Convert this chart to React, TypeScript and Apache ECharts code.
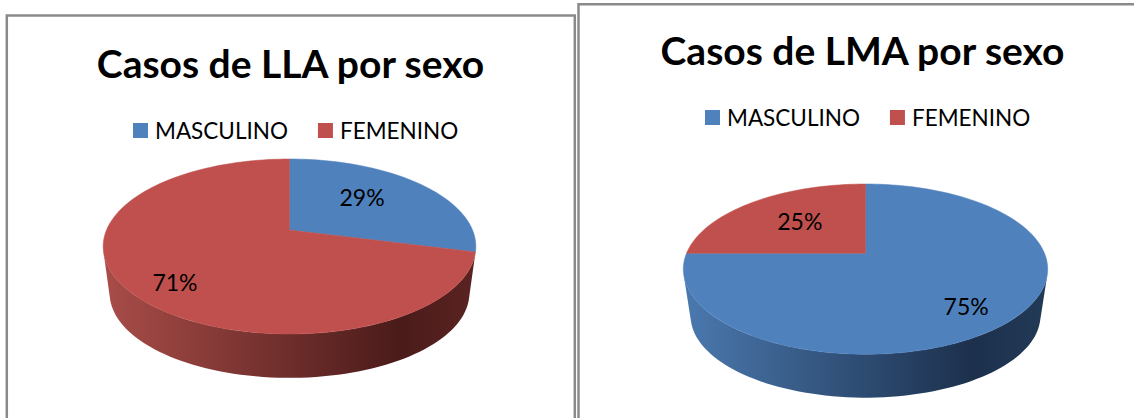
import React, { useEffect, useRef } from "react";
import * as echarts from "echarts";

const categories = ["MASCULINO", "FEMENINO"];
const llaValues = [29, 71];
const lmaValues = [75, 25];
const titles = ["Casos de LLA por sexo", "Casos de LMA por sexo"];

const COLORS = ["#4F81BD", "#C0504D"];
const WALL_STOPS = [
  [{ offset: 0, color: "#4A78AE" }, { offset: 0.8, color: "#1C304C" }, { offset: 1, color: "#223A56" }],
  [{ offset: 0, color: "#A84C48" }, { offset: 0.8, color: "#4A1B1A" }, { offset: 1, color: "#5A2321" }],
];
const FONT = "Lato, Carlito, 'Open Sans', sans-serif";
const WALL_LIMIT = 105;

type Pie = {
  values: number[]; cx: number; cy: number; R: number; S: number; k: number; h: number; s: number;
  labelR: number[]; labelNudge: number[][];
};
const pies: Pie[] = [
  { values: llaValues, cx: 289.5, cy: 230, R: 183, S: 84.4, k: 0.1886, h: 47.5, s: 0.965,
    labelR: [0.58, 0.72], labelNudge: [[-6, -5], [-1, 11]] },
  { values: lmaValues, cx: 865.5, cy: 253.3, R: 179, S: 82.2, k: 0.186, h: 47.4, s: 0.96,
    labelR: [0.72, 0.53], labelNudge: [[0, 6], [-3, -4]] },
];

function project(p: Pie, deg: number, r = 1, lower = false) {
  const t = (deg * Math.PI) / 180;
  const X = r * Math.sin(t);
  const d = -r * Math.cos(t);
  const w = 1 - p.k * d;
  const sc = lower ? p.s : 1;
  return [p.cx + (sc * p.R * X) / w, p.cy + (lower ? p.h : 0) + (sc * p.S * d) / w];
}

function arc(p: Pie, a: number, b: number, lower = false) {
  const n = Math.max(2, Math.ceil((b - a) / 2));
  const out: number[][] = [];
  for (let i = 0; i <= n; i++) out.push(project(p, a + ((b - a) * i) / n, 1, lower));
  return out;
}

function makeSeries(p: Pie) {
  const total = p.values.reduce((x, y) => x + y, 0);
  return p.values.map((v, i) => ({
    type: "custom",
    name: categories[i],
    coordinateSystem: "none",
    silent: true,
    itemStyle: { color: COLORS[i] },
    data: [[v]],
    renderItem: (_: any, api: any) => {
      const val = api.value(0) as number;
      const before = p.values.slice(0, i).reduce((x, y) => x + y, 0);
      const a = (before / total) * 360;
      const b = ((before + val) / total) * 360;
      const wa = Math.max(a, WALL_LIMIT);
      const wb = Math.min(b, 360 - WALL_LIMIT);
      const children: any[] = [];
      if (wb > wa) {
        const pts = [...arc(p, wa, wb), ...arc(p, wa, wb, true).reverse()];
        children.push({
          type: "polygon",
          z2: 1,
          shape: { points: pts },
          style: {
            fill: new echarts.graphic.LinearGradient(
              p.cx - p.R, 0, p.cx + p.R, 0, WALL_STOPS[i], true
            ),
          },
        });
      }
      children.push({
        type: "polygon",
        z2: 2,
        shape: { points: [[p.cx, p.cy], ...arc(p, a, b)] },
        style: { fill: COLORS[i], stroke: COLORS[i], lineWidth: 0.5 },
      });
      const lp = project(p, (a + b) / 2, p.labelR[i]);
      children.push({
        type: "text",
        z2: 3,
        style: {
          text: `${Math.round((val / total) * 100)}%`,
          x: lp[0] + p.labelNudge[i][0],
          y: lp[1] + p.labelNudge[i][1],
          align: "center",
          verticalAlign: "middle",
          fontFamily: FONT,
          fontSize: 23,
          fill: "#000",
        },
      });
      return { type: "group", children };
    },
  }));
}

export default function App() {
  const ref = useRef<HTMLDivElement>(null);
  useEffect(() => {
    const chart = echarts.init(ref.current!, undefined, { renderer: "svg" });
    const legendBase = {
      orient: "horizontal",
      icon: "rect",
      itemWidth: 15,
      itemHeight: 15,
      selectedMode: false,
      padding: 0,
      data: categories,
      textStyle: { fontFamily: FONT, fontSize: 22.5, color: "#000", padding: [0, 0, 0, 2] },
    };
    const titleStyle = { fontFamily: FONT, fontWeight: "bold", fontSize: 39, color: "#000" };
    chart.setOption({
      animation: false,
      backgroundColor: "#fff",
      title: [
        { text: titles[0], left: 285.5, top: 38, textAlign: "center", textStyle: titleStyle },
        { text: titles[1], left: 857.5, top: 25, textAlign: "center", textStyle: titleStyle },
      ],
      legend: [
        { ...legendBase, left: 133, top: 119, itemGap: 30 },
        { ...legendBase, left: 705, top: 106, itemGap: 30 },
      ],
      graphic: [
        { type: "rect", silent: true, z: -10, shape: { x: 6.8, y: 15.5, width: 568, height: 420 },
          style: { fill: "none", stroke: "#8A8A8A", lineWidth: 2.5 } },
        { type: "rect", silent: true, z: -10, shape: { x: 578.5, y: 4.2, width: 580, height: 430 },
          style: { fill: "none", stroke: "#8A8A8A", lineWidth: 2.5 } },
      ],
      series: pies.flatMap((p) => makeSeries(p)),
    });
    return () => chart.dispose();
  }, []);
  return <div ref={ref} style={{ position: "fixed", left: 0, top: 0, width: 1134, height: 418 }} />;
}
